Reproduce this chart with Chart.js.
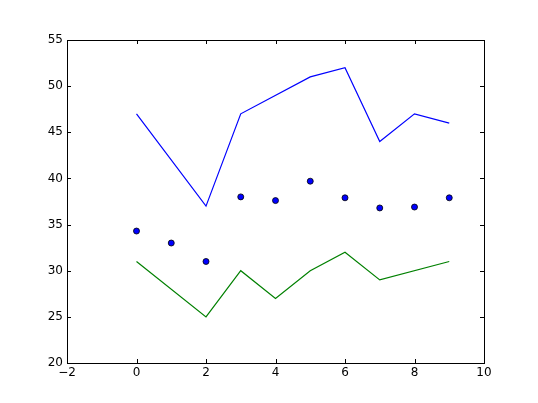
<!DOCTYPE html>
<html>
<head>
<meta charset="utf-8">
<script src="https://cdn.jsdelivr.net/npm/chart.js@4"></script>
<style>
  html, body { margin: 0; padding: 0; background: #fff; }
  #wrap { width: 538px; height: 403px; }
</style>
</head>
<body>
<div id="wrap"><canvas id="chart" width="538" height="403"></canvas></div>
<script>
// Data
const upperX = [0, 2, 3, 5, 6, 7, 8, 9];
const upperY = [47, 37, 47, 51, 52, 44, 47, 46];

const lowerX = [0, 2, 3, 4, 5, 6, 7, 9];
const lowerY = [31, 25, 30, 27, 30, 32, 29, 31];

const pointX = [0, 1, 2, 3, 4, 5, 6, 7, 8, 9];
const pointY = [34.3, 33.0, 31.0, 38.0, 37.6, 39.7, 37.9, 36.8, 36.9, 37.9];

const xTicks = [-2, 0, 2, 4, 6, 8, 10];
const yTicks = [20, 25, 30, 35, 40, 45, 50, 55];

const toXY = (xs, ys) => xs.map((x, i) => ({ x: x, y: ys[i] }));

// Frame with inward ticks on all sides (matplotlib classic look)
const framePlugin = {
    id: 'frame',
    afterDatasetsDraw(chart) {
        const { ctx, chartArea: a, scales } = chart;
        ctx.save();
        ctx.strokeStyle = '#000';
        ctx.lineWidth = 1;
        const tl = 4;
        ctx.beginPath();
        xTicks.forEach(v => {
            const px = Math.round(scales.x.getPixelForValue(v)) + 0.5;
            ctx.moveTo(px, a.bottom); ctx.lineTo(px, a.bottom - tl);
            ctx.moveTo(px, a.top); ctx.lineTo(px, a.top + tl);
        });
        yTicks.forEach(v => {
            const py = Math.round(scales.y.getPixelForValue(v)) + 0.5;
            ctx.moveTo(a.left, py); ctx.lineTo(a.left + tl, py);
            ctx.moveTo(a.right, py); ctx.lineTo(a.right - tl, py);
        });
        ctx.stroke();
        ctx.strokeRect(Math.round(a.left) + 0.5, Math.round(a.top) + 0.5,
            Math.round(a.right - a.left), Math.round(a.bottom - a.top));
        ctx.restore();
    }
};

new Chart(document.getElementById('chart'), {
    type: 'scatter',
    data: {
        datasets: [
            {
                type: 'line',
                data: toXY(upperX, upperY),
                borderColor: '#0000ff',
                borderWidth: 1.2,
                pointRadius: 0,
                tension: 0,
                fill: false
            },
            {
                type: 'line',
                data: toXY(lowerX, lowerY),
                borderColor: '#008000',
                borderWidth: 1.2,
                pointRadius: 0,
                tension: 0,
                fill: false
            },
            {
                data: toXY(pointX, pointY),
                backgroundColor: '#0000ff',
                borderColor: '#000',
                borderWidth: 0.8,
                pointRadius: 3
            }
        ]
    },
    options: {
        responsive: false,
        animation: false,
        layout: { padding: { top: 40, right: 54, left: 0, bottom: 0 } },
        plugins: {
            legend: { display: false },
            tooltip: { enabled: false }
        },
        scales: {
            x: {
                type: 'linear',
                min: -2,
                max: 10,
                afterBuildTicks: s => { s.ticks = xTicks.map(v => ({ value: v })); },
                afterFit: s => { s.height = 40; },
                grid: { display: false, drawTicks: false },
                border: { display: false },
                ticks: {
                    padding: 3,
                    color: '#000',
                    font: { family: 'DejaVu Sans', size: 12 },
                    callback: v => (v < 0 ? '\u2212' + Math.abs(v) : String(v))
                }
            },
            y: {
                min: 20,
                max: 55,
                afterBuildTicks: s => { s.ticks = yTicks.map(v => ({ value: v })); },
                afterFit: s => { s.width = 67; },
                grid: { display: false, drawTicks: false },
                border: { display: false },
                ticks: {
                    padding: 4,
                    color: '#000',
                    font: { family: 'DejaVu Sans', size: 12 }
                }
            }
        }
    },
    plugins: [framePlugin]
});
</script>
</body>
</html>
